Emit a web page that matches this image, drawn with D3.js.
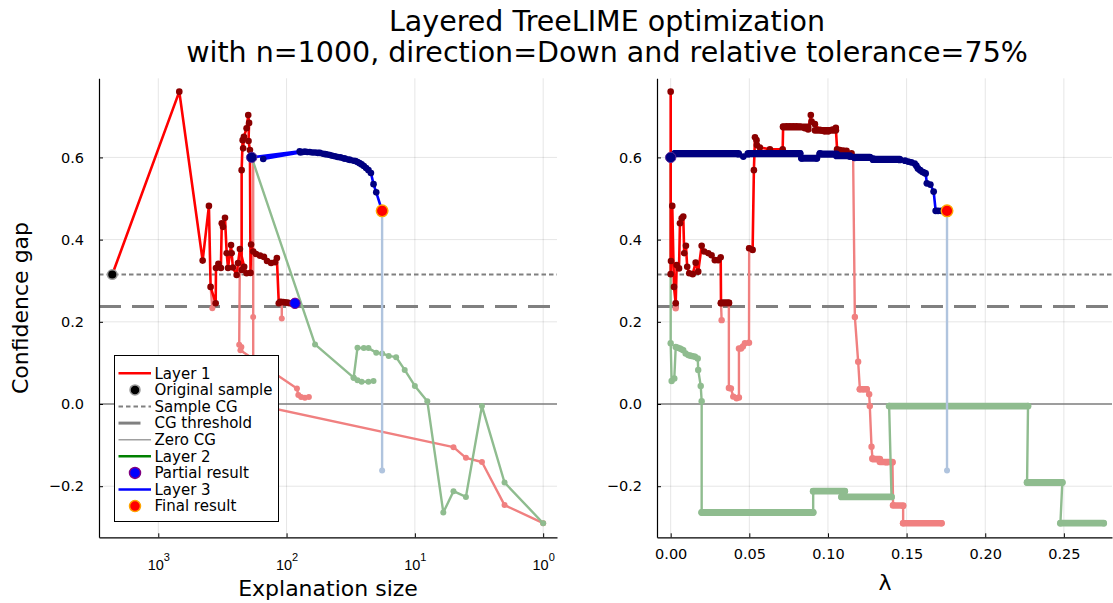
<!DOCTYPE html>
<html><head><meta charset="utf-8">
<script src="https://cdn.jsdelivr.net/npm/d3@7"></script>
<style>
body{margin:0;background:#fff}
svg{display:block;font-family:"DejaVu Sans",sans-serif}
</style>
</head><body>
<script>
// ---------- data ----------
const titleLines = ["Layered TreeLIME optimization",
  "with n=1000, direction=Down and relative tolerance=75%"];
const xLabelSize = "Explanation size";
const xLabelLambda = "λ";
const yLabel = "Confidence gap";

const sampleCG = 0.315;
const cgThreshold = 0.237;

const cgTicks = [-0.2, 0, 0.2, 0.4, 0.6];
const sizeTicks = [1000, 100, 10, 1];
const lambdaTicks = [0, 0.05, 0.1, 0.15, 0.2, 0.25];

const legendLabels = ["Layer 1", "Original sample", "Sample CG", "CG threshold",
  "Zero CG", "Layer 2", "Partial result", "Layer 3", "Final result"];

// left panel: [explanation size, confidence gap]
const sizeLayer1 = [[2283,0.315],[686,0.760],[451,0.349],[403,0.482],[391,0.285],[357,0.245],
  [355,0.331],[340,0.341],[325,0.331],[320,0.440],[313,0.431],[302,0.453],[293,0.367],[286,0.331],
  [271,0.387],[268,0.367],[262,0.332],[245,0.314],[239,0.343],[231,0.377],[214,0.334],[205,0.318],
  [224,0.326],[224,0.569],[220,0.642],[218,0.622],[215,0.650],[205,0.671],[199,0.703],[196,0.684],
  [198,0.640],[193,0.618],[191,0.319],[189,0.388],[182,0.371],[173,0.365],[161,0.361],[150,0.358],
  [142,0.348],[132,0.343],[123,0.345],[119,0.355],[115,0.245],[112,0.249],[109,0.248],[106,0.248],
  [103,0.247],[100,0.247],[97,0.246],[94,0.245],[91,0.245],[88,0.245],[86,0.245]];
const sizeFadedA = [[391,0.285],[379,0.233]];
const sizeFadedB = [[231,0.377],[234,0.144],[225,0.139],[229,0.131],[83,0.038],[81,0.022],
  [77,0.017],[72,0.015],[67,0.017]];
const sizeFadedC = [[182,0.600],[182,0.212],[182,0.102],[182,0.036],[182,0.0],[5,-0.105],
  [4,-0.131],[3,-0.141],[2,-0.246],[1,-0.290]];
const sizeFadedD = [[109,0.248],[109,0.208]];
const sizeLayer2 = [[187,0.600],[60,0.145],[30,0.064],[28,0.137],[25,0.136],[23,0.136],[20,0.125],
  [18,0.123],[16,0.117],[14,0.114],[12,0.083],[10,0.044],[8,0.007],[6,-0.264],[5,-0.212],
  [4,-0.226],[3,-0.005],[2,-0.191],[1,-0.290]];
const sizeLayer2Branch = [[30,0.064],[28,0.058],[26,0.054],[23,0.054],[21,0.056]];
const sizeLayer3 = [[187,0.600],[79,0.615],[152,0.596],[78,0.612],[75,0.613],[72,0.614],[69,0.613],
  [66,0.613],[63,0.612],[60,0.612],[57,0.611],[55,0.611],[52,0.609],[50,0.608],[48,0.607],[46,0.606],
  [44,0.604],[42,0.603],[40,0.601],[38,0.600],[36,0.598],[35,0.597],[33,0.595],[32,0.594],
  [30,0.592],[29,0.591],[28,0.589],[27,0.586],[26,0.583],[25,0.579],[24,0.574],[23,0.569],
  [22,0.562],[21,0.535],[20,0.515],[18,0.470]];
const sizeFinalDrop = [[18,0.470],[18,-0.162]];
const sizeSample = [2283, 0.315];
const sizePartial = [86, 0.245];
const sizeLayer3Start = [187, 0.600];
const sizeFinal = [18, 0.470];

// right panel: [lambda, confidence gap]
const lambdaLayer1A = [[0,0.760],[0,0.316],[0.0002,0.348],[0.0010,0.482],[0.0021,0.285],
  [0.0032,0.245],[0.0038,0.338],[0.0053,0.330],[0.0059,0.440],[0.0070,0.452],[0.0080,0.456],
  [0.0086,0.367],[0.0097,0.385],[0.0105,0.334],[0.0118,0.318],[0.0140,0.316],[0.0159,0.344],
  [0.0175,0.322],[0.0197,0.385],[0.0213,0.371],[0.0239,0.367],[0.0260,0.362],[0.0281,0.350],
  [0.0302,0.350],[0.0318,0.357],[0.0320,0.245],[0.0332,0.246],[0.0345,0.246],[0.0358,0.246],
  [0.0370,0.246]];
const lambdaLayer1B = [[0.0499,0.379],[0.0521,0.375],[0.0529,0.569],[0.0536,0.649],[0.0546,0.642],
  [0.0548,0.630],[0.0567,0.624],[0.0631,0.620],[0.0712,0.620],[0.0715,0.675],[0.0737,0.676],
  [0.0758,0.676],[0.0779,0.676],[0.0800,0.676],[0.0821,0.675],[0.0853,0.671],[0.0874,0.668],
  [0.0891,0.703],[0.0896,0.687],[0.0917,0.681],[0.0949,0.667],[0.0965,0.665],[0.0980,0.663],
  [0.1001,0.663],[0.1029,0.668],[0.1050,0.672],[0.1058,0.620],[0.1076,0.618],[0.1097,0.617],
  [0.1118,0.616],[0.1150,0.610],[0.1160,0.601]];
const lambdaFadedA = [[0.0032,0.245],[0.0032,0.233]];
const lambdaFadedB = [[0.0320,0.245],[0.0324,0.204]];
const lambdaFadedC = [[0.0370,0.246],[0.0370,0.039],[0.0383,0.038],[0.0398,0.018],[0.0419,0.014],
  [0.0434,0.016],[0.0434,0.135],[0.0447,0.135],[0.0459,0.140],[0.0472,0.148],[0.0498,0.149],
  [0.0499,0.379]];
const lambdaFadedD = [[0.1160,0.601],[0.1171,0.212],[0.1192,0.103],[0.1203,0.036],[0.1225,0.036],
  [0.1246,0.036],[0.1262,0.024],[0.1266,-0.005],[0.1277,-0.104],[0.1283,-0.132],[0.1330,-0.136],
  [0.1372,-0.142],[0.1410,-0.142],[0.1414,-0.246],[0.1478,-0.248],[0.1478,-0.290],[0.1722,-0.290]];
const lambdaFadedRuns = [[0.1203,0.1246,0.036],[0.1283,0.1330,-0.134],[0.1330,0.1410,-0.141],
  [0.1414,0.1478,-0.247],[0.1478,0.1722,-0.290]];
const lambdaLayer2 = [[0,0.600],[0,0.148],[0.0006,0.056],[0.0023,0.062],[0.0032,0.139],[0.0045,0.137],
  [0.0059,0.135],[0.0070,0.133],[0.0080,0.131],[0.0095,0.123],[0.0112,0.119],[0.0122,0.118],
  [0.0133,0.117],[0.0145,0.116],[0.0155,0.115],[0.0172,0.111],[0.0175,0.083],[0.0191,0.044],
  [0.0197,0.007],[0.0197,-0.264],[0.0906,-0.264],[0.0906,-0.212],[0.1107,-0.212],[0.1086,-0.226],
  [0.1404,-0.226],[0.1389,-0.005],[0.2272,-0.005],[0.2266,-0.191],[0.2490,-0.191],[0.2478,-0.290],
  [0.2753,-0.290]];
const lambdaLayer2Runs = [[0.0197,0.0906,-0.264],[0.0906,0.1107,-0.212],[0.1086,0.1404,-0.226],
  [0.1389,0.2272,-0.005],[0.2266,0.2490,-0.191],[0.2478,0.2753,-0.290]];
const lambdaLayer3 = [[0,0.600],[0.0027,0.610],[0.0431,0.608],[0.0462,0.602],[0.0492,0.608],
  [0.0822,0.610],[0.0833,0.598],[0.0928,0.598],[0.0949,0.610],[0.1055,0.606],[0.1139,0.602],
  [0.1170,0.599],[0.1266,0.600],[0.1287,0.597],[0.1456,0.594],[0.1490,0.592],[0.1510,0.590],
  [0.1530,0.588],[0.1551,0.585],[0.1562,0.580],[0.1572,0.573],[0.1586,0.569],[0.1600,0.565],
  [0.1611,0.563],[0.1621,0.561],[0.1629,0.537],[0.1651,0.534],[0.1672,0.517],[0.1685,0.470],
  [0.1700,0.470],[0.1721,0.470],[0.1757,0.470]];
const lambdaLayer3Runs = [[0.0027,0.0431,0.609],[0.0492,0.0822,0.609],[0.0833,0.0928,0.598],
  [0.0949,0.1055,0.608],[0.1055,0.1139,0.604],[0.1170,0.1266,0.600],[0.1287,0.1456,0.595]];
const lambdaLayer1Runs = [[0.0320,0.0370,0.246],[0.0715,0.0874,0.674],[0.0917,0.1050,0.666]];
const lambdaFinalDrop = [[0.1757,0.470],[0.1757,-0.162]];
const lambdaLayer3Start = [0, 0.600];
const lambdaFinal = [0.1757, 0.470];

// ---------- layout ----------
const W = 1113, H = 603;
const yTop = 78.3, yBot = 537.3;
const y = d3.scaleLinear().domain([-0.3243, 0.7925]).range([yBot, yTop]);
const xL = d3.scaleLog().domain([2898, 0.78]).range([99, 557]);
const xR = d3.scaleLinear().domain([-0.0087, 0.2806]).range([657, 1112]);

const C = {
  red: "#ff0000", darkred: "#8b0000", coral: "#f08080", sea: "#8fbc8f",
  blue: "#0000ff", navy: "#000080", steel: "#b0c4de", ref: "#808080"
};

const svg = d3.select("body").append("svg").attr("width", W).attr("height", H);
svg.append("rect").attr("width", W).attr("height", H).attr("fill", "#fff");

// title
svg.append("g").selectAll("text").data(titleLines).join("text")
  .attr("x", 607).attr("y", (d, i) => 31 + i * 30.5)
  .attr("text-anchor", "middle").attr("font-size", 28.5).attr("fill", "#000")
  .text(d => d);

function panel(name, xs, xTickVals) {
  const [x0, x1] = xs.range();
  const g = svg.append("g");
  g.append("clipPath").attr("id", "clip-" + name)
    .append("rect").attr("x", x0).attr("y", yTop).attr("width", x1 - x0).attr("height", yBot - yTop);

  // grid
  const grid = g.append("g").attr("stroke", "#000").attr("stroke-opacity", 0.1).attr("stroke-width", 1);
  grid.selectAll(".gx").data(xTickVals).join("line")
    .attr("x1", d => xs(d)).attr("x2", d => xs(d)).attr("y1", yTop).attr("y2", yBot);
  grid.selectAll(".gy").data(cgTicks).join("line")
    .attr("x1", x0).attr("x2", x1).attr("y1", d => y(d)).attr("y2", d => y(d));

  const plot = g.append("g").attr("clip-path", `url(#clip-${name})`);

  // reference lines
  plot.append("line").attr("x1", x0).attr("x2", x1).attr("y1", y(0)).attr("y2", y(0))
    .attr("stroke", C.ref).attr("stroke-width", 1.5);
  plot.append("line").attr("x1", x0).attr("x2", x1).attr("y1", y(sampleCG)).attr("y2", y(sampleCG))
    .attr("stroke", C.ref).attr("stroke-width", 2).attr("stroke-dasharray", "4.5,3");
  plot.append("line").attr("x1", x0).attr("x2", x1).attr("y1", y(cgThreshold)).attr("y2", y(cgThreshold))
    .attr("stroke", C.ref).attr("stroke-width", 3).attr("stroke-dasharray", "22,11");

  // axes
  const ya = d3.axisLeft(y).tickValues(cgTicks).tickFormat(d3.format(".1f"))
    .tickSizeInner(-4).tickSizeOuter(0).tickPadding(15);
  const ag = g.append("g").attr("transform", `translate(${x0},0)`).call(ya);
  ag.selectAll("text").attr("font-size", 14.5).attr("font-family", "DejaVu Sans").attr("fill", "#000");
  ag.select(".domain").attr("stroke-width", 1.2);

  const xa = d3.axisBottom(xs).tickValues(xTickVals).tickSizeInner(-4).tickSizeOuter(0).tickPadding(11);
  const bg = g.append("g").attr("transform", `translate(0,${yBot})`).call(xa);
  bg.selectAll("text").attr("font-size", 14.5).attr("font-family", "DejaVu Sans").attr("fill", "#000");
  bg.select(".domain").attr("stroke-width", 1.2);
  return { g, plot, bg, xs };
}

function series(p, pts, lineColor, lineW, markColor, r) {
  const line = d3.line().x(d => p.xs(d[0])).y(d => y(d[1]));
  if (lineColor) p.plot.append("path").datum(pts).attr("d", line)
    .attr("fill", "none").attr("stroke", lineColor).attr("stroke-width", lineW)
    .attr("stroke-linejoin", "round");
  if (markColor) p.plot.append("g").selectAll("circle").data(pts).join("circle")
    .attr("cx", d => p.xs(d[0])).attr("cy", d => y(d[1])).attr("r", r).attr("fill", markColor);
}
function runs(p, rs, color, r) {
  p.plot.append("g").selectAll("line").data(rs).join("line")
    .attr("x1", d => p.xs(d[0])).attr("x2", d => p.xs(d[1]))
    .attr("y1", d => y(d[2])).attr("y2", d => y(d[2]))
    .attr("stroke", color).attr("stroke-width", 2 * r).attr("stroke-linecap", "round");
}
function dot(p, d, fill, stroke, r, sw) {
  p.plot.append("circle").attr("cx", p.xs(d[0])).attr("cy", y(d[1])).attr("r", r)
    .attr("fill", fill).attr("stroke", stroke).attr("stroke-width", sw);
}

// ----- left panel -----
const L = panel("left", xL, sizeTicks);
L.bg.selectAll(".tick text").remove();
const supT = L.bg.selectAll(".tick").append("text").attr("fill", "#000")
  .attr("text-anchor", "middle").attr("y", 33).attr("font-size", 14.5);
supT.append("tspan").text("10");
supT.append("tspan").attr("dy", -9).attr("font-size", 11).text(d => String(Math.round(Math.log10(d))));

[sizeFadedA, sizeFadedB, sizeFadedC, sizeFadedD].forEach(s => series(L, s, C.coral, 2.4, C.coral, 3));
series(L, sizeLayer2, C.sea, 2.4, C.sea, 3);
series(L, sizeLayer2Branch, C.sea, 2.4, C.sea, 3);
series(L, sizeFinalDrop, C.steel, 2.4, null, 0);
dot(L, sizeFinalDrop[1], C.steel, "none", 3, 0);
series(L, sizeLayer1, C.red, 2.6, C.darkred, 3.3);
series(L, sizeLayer3, C.blue, 2.6, C.navy, 3.3);
dot(L, sizeSample, "#000", "#9a9a9a", 4.8, 1.5);
dot(L, sizeLayer3Start, C.navy, "#5a2a9a", 5.2, 1);
dot(L, sizePartial, C.blue, "#800080", 5.2, 1);
dot(L, sizeFinal, C.red, "#ffa500", 5.8, 1.4);

// ----- right panel -----
const R = panel("right", xR, lambdaTicks);
R.bg.selectAll(".tick text").text(d => d3.format(".2f")(d));

[lambdaFadedA, lambdaFadedB, lambdaFadedC, lambdaFadedD].forEach(s => series(R, s, C.coral, 2.4, C.coral, 3.2));
runs(R, lambdaFadedRuns, C.coral, 3.3);
series(R, lambdaLayer2, C.sea, 2.4, C.sea, 3.2);
runs(R, lambdaLayer2Runs, C.sea, 3.4);
series(R, lambdaFinalDrop, C.steel, 2.4, null, 0);
dot(R, lambdaFinalDrop[1], C.steel, "none", 3, 0);
series(R, lambdaLayer1A, C.red, 2.6, C.darkred, 3.3);
series(R, lambdaLayer1B, C.red, 2.6, C.darkred, 3.3);
runs(R, lambdaLayer1Runs, C.darkred, 3.4);
series(R, lambdaLayer3, C.blue, 2.6, C.navy, 3.4);
runs(R, lambdaLayer3Runs, C.navy, 3.6);
dot(R, lambdaLayer3Start, C.navy, "#5a2a9a", 5.2, 1);
dot(R, lambdaFinal, C.red, "#ffa500", 5.8, 1.4);

// axis labels
svg.append("text").attr("x", 328).attr("y", 596).attr("text-anchor", "middle")
  .attr("font-size", 22).text(xLabelSize);
svg.append("text").attr("x", 885).attr("y", 590).attr("text-anchor", "middle")
  .attr("font-size", 22).text(xLabelLambda);
svg.append("text").attr("transform", "translate(28,308) rotate(-90)").attr("text-anchor", "middle")
  .attr("font-size", 22).text(yLabel);

// legend
const legendStyles = [
  { kind: "line", stroke: C.red, w: 2.6 },
  { kind: "dot", fill: "#000", stroke: "#9a9a9a", r: 5 },
  { kind: "line", stroke: C.ref, w: 2, dash: "4.5,3" },
  { kind: "line", stroke: C.ref, w: 3, dash: "22,11" },
  { kind: "line", stroke: "#a0a0a0", w: 1.6 },
  { kind: "line", stroke: "#008000", w: 2.6 },
  { kind: "dot", fill: C.blue, stroke: "#800080", r: 5.5 },
  { kind: "line", stroke: C.blue, w: 2.6 },
  { kind: "dot", fill: C.red, stroke: "#ffa500", r: 5.5 }
];
const lg = svg.append("g");
lg.append("rect").attr("x", 114.5).attr("y", 355.5).attr("width", 164).attr("height", 166)
  .attr("fill", "#fff").attr("stroke", "#000").attr("stroke-width", 1);
legendLabels.forEach((lab, i) => {
  const cy = 373.3 + i * 16.6, s = legendStyles[i];
  if (s.kind === "line") {
    lg.append("line").attr("x1", 118.5).attr("x2", 151).attr("y1", cy).attr("y2", cy)
      .attr("stroke", s.stroke).attr("stroke-width", s.w).attr("stroke-dasharray", s.dash || null);
  } else {
    lg.append("circle").attr("cx", 135).attr("cy", cy).attr("r", s.r)
      .attr("fill", s.fill).attr("stroke", s.stroke).attr("stroke-width", 1.5);
  }
  lg.append("text").attr("x", 154.5).attr("y", cy + 5.3).attr("font-size", 15).text(lab);
});
</script>
</body></html>
